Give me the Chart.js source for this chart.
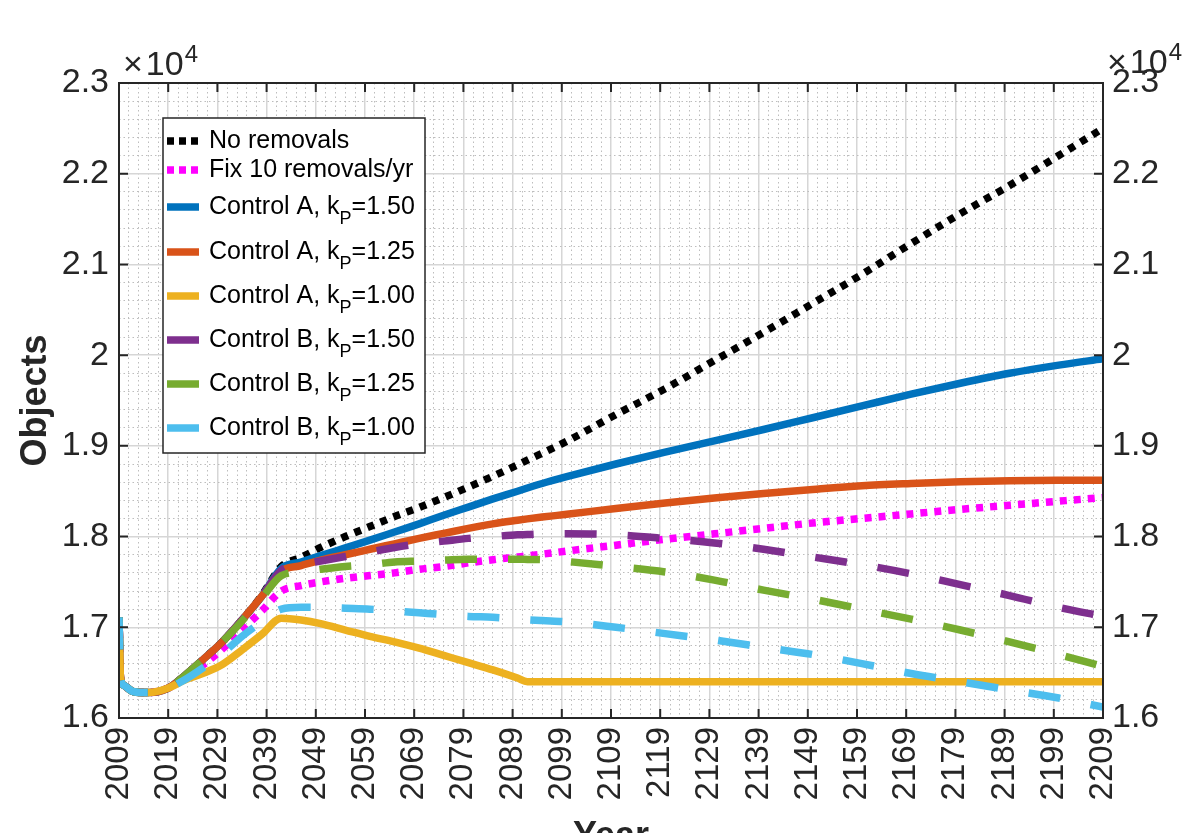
<!DOCTYPE html>
<html><head><meta charset="utf-8">
<script src="https://cdn.jsdelivr.net/npm/chart.js@4.4.1/dist/chart.umd.min.js"></script>
<style>html,body{margin:0;padding:0;background:#fff;}canvas{display:block;}</style>
</head><body>
<canvas id="c" width="1188" height="833"></canvas>
<script>
// ---- data ----
const years = [2009, 2009.3, 2010, 2012, 2015, 2019, 2022, 2026, 2030, 2034, 2038,
  2042, 2046, 2050, 2055, 2060, 2065, 2070, 2075, 2080, 2085, 2090, 2092, 2095, 2100,
  2110, 2120, 2130, 2140, 2150, 2160, 2170, 2180, 2190, 2200, 2209];
const early = [17110, 16450, 16360, 16290, 16280, 16330];
const noRemovals = early.concat([16450,16640,16840,17080,17350, 17670,17770,17880,18000,18110,18220,18320,18430,18545,18665,18790,18843,18918,19050, 19345,19630,19940,20250,20570,20890,21230,21560,21870,22200, 22500]);
const fix10 = early.concat([16430,16580,16760,16970,17180, 17400,17460,17500,17540,17570,17600,17640,17670,17710,17745,17775,17787,17806,17840, 17905,17970,18030,18090,18150,18200,18250,18300,18345,18390, 18430]);
const ctrlA150 = early.concat([16450,16640,16840,17080,17340, 17650,17720,17790,17875,17960,18050,18140,18235,18325,18415,18500,18535,18585,18660, 18800,18930,19055,19180,19310,19440,19570,19690,19800,19890, 19960]);
const ctrlA125 = early.concat([16450,16640,16840,17080,17340, 17620,17680,17740,17800,17860,17920,17980,18035,18090,18140,18180,18195,18215,18245, 18310,18370,18425,18475,18520,18560,18585,18605,18615,18620, 18620]);
const ctrlA100 = early.concat([16410,16490,16590,16750,16920, 17100,17080,17040,16970,16900,16840,16770,16690,16610,16530,16440,16400,16400,16400, 16400,16400,16400,16400,16400,16400,16400,16400,16400,16400, 16400]);
const ctrlB150 = early.concat([16450,16640,16840,17080,17340, 17630,17690,17730,17780,17830,17880,17920,17950,17980,18000,18020,18022,18028,18030, 18020,17980,17930,17860,17775,17690,17590,17470,17350,17220, 17120]);
const ctrlB125 = early.concat([16450,16640,16840,17070,17320, 17570,17610,17640,17670,17690,17720,17730,17740,17750,17750,17750,17748,17745,17725, 17670,17610,17520,17410,17310,17200,17090,16970,16840,16700, 16570]);
const ctrlB100 = early.concat([16410,16550,16710,16900,17060, 17200,17220,17220,17210,17200,17180,17160,17140,17120,17110,17090,17083,17074,17060, 17000,16930,16860,16780,16700,16600,16490,16400,16310,16220, 16120]);
const seriesLabels = ['No removals', 'Fix 10 removals/yr', 'Control A, k_P=1.50', 'Control A, k_P=1.25',
  'Control A, k_P=1.00', 'Control B, k_P=1.50', 'Control B, k_P=1.25', 'Control B, k_P=1.00'];
const xTickYears = [2009,2019,2029,2039,2049,2059,2069,2079,2089,2099,2109,2119,2129,2139,2149,2159,2169,2179,2189,2199,2209];
const yTickValues = [16000,17000,18000,19000,20000,21000,22000,23000];

// ---- styles ----
const FONT = '"Liberation Sans", Arial, Helvetica, sans-serif';
const TXT = '#262626';
const LW = 7.5;
const styles = [
  {color:'#000000', dash:[7,7], legDash:[7,5]},
  {color:'#FF00FF', dash:[7,7], legDash:[7,5]},
  {color:'#0072BD', dash:[]},
  {color:'#D95319', dash:[]},
  {color:'#EDB120', dash:[]},
  {color:'#7E2F8E', dash:[32,31]},
  {color:'#77AC30', dash:[32,31]},
  {color:'#4DBEEE', dash:[32,31]}
];
const seriesData = [noRemovals, fix10, ctrlA150, ctrlA125, ctrlA100, ctrlB150, ctrlB125, ctrlB100];

const xGrid = []; for (let v = 2009; v <= 2209; v += 2) xGrid.push(v);
const yGrid = []; for (let v = 16000; v <= 23000; v += 200) yGrid.push(v);
const isMajorX = v => xTickYears.includes(v);
const isMajorY = v => yTickValues.includes(v);

const datasets = seriesData.map((d, i) => ({
  label: seriesLabels[i],
  data: d.map((v, k) => ({x: years[k], y: v})),
  borderColor: styles[i].color,
  borderDash: styles[i].dash,
  borderWidth: LW,
  borderCapStyle: 'butt',
  borderJoinStyle: 'round',
  pointRadius: 0,
  fill: false,
  cubicInterpolationMode: 'monotone',
  order: seriesData.length - i
}));

function drawRich(ctx, text, x, y, size) {
  const parts = text.split('_');
  ctx.font = size + 'px ' + FONT;
  ctx.textBaseline = 'middle';
  ctx.textAlign = 'left';
  let cx = x;
  ctx.fillText(parts[0], cx, y); cx += ctx.measureText(parts[0]).width;
  if (parts.length > 1) {
    const sub = parts[1].charAt(0), rest = parts[1].slice(1);
    ctx.font = Math.round(size * 0.72) + 'px ' + FONT;
    ctx.fillText(sub, cx, y + 12); cx += ctx.measureText(sub).width;
    ctx.font = size + 'px ' + FONT;
    ctx.fillText(rest, cx, y);
  }
}

const framePlugin = {
  id: 'frame',
  afterDraw(chart) {
    const {ctx, chartArea: a, scales: {x, y}} = chart;
    ctx.save();
    ctx.strokeStyle = TXT; ctx.lineWidth = 2; ctx.setLineDash([]);
    ctx.beginPath();
    xTickYears.forEach(v => {
      const px = x.getPixelForValue(v);
      ctx.moveTo(px, a.bottom); ctx.lineTo(px, a.bottom - 9);
      ctx.moveTo(px, a.top); ctx.lineTo(px, a.top + 9);
    });
    yTickValues.forEach(v => {
      const py = y.getPixelForValue(v);
      ctx.moveTo(a.left, py); ctx.lineTo(a.left + 9, py);
      ctx.moveTo(a.right, py); ctx.lineTo(a.right - 9, py);
    });
    ctx.stroke();
    ctx.strokeRect(a.left, a.top, a.right - a.left, a.bottom - a.top);

    // exponent labels (x10^4)
    ctx.fillStyle = TXT; ctx.textBaseline = 'alphabetic'; ctx.textAlign = 'left';
    const expo = (x0, base) => {
      ctx.font = '34px ' + FONT;
      ctx.fillText('\u00D7', x0, base);
      let cx = x0 + ctx.measureText('\u00D7').width + 3;
      ctx.fillText('10', cx, base);
      cx += ctx.measureText('10').width + 1;
      ctx.font = '24px ' + FONT;
      ctx.fillText('4', cx, base - 13);
    };
    expo(a.left + 4, a.top - 8);
    expo(a.right + 4, a.top - 10);

    // legend
    const lx = a.left + 44, ly = a.top + 35, lw = 262, lh = 335;
    ctx.fillStyle = '#ffffff';
    ctx.fillRect(lx, ly, lw, lh);
    ctx.strokeStyle = '#262626'; ctx.lineWidth = 1.5;
    ctx.strokeRect(lx, ly, lw, lh);
    const rows = [23, 52, 89, 134, 178, 222, 266, 310];
    seriesLabels.forEach((lab, i) => {
      const ry = ly + rows[i];
      ctx.strokeStyle = styles[i].color; ctx.lineWidth = LW;
      ctx.setLineDash(styles[i].legDash || []);
      ctx.lineCap = 'butt';
      ctx.beginPath(); ctx.moveTo(lx + 4, ry); ctx.lineTo(lx + 36, ry); ctx.stroke();
      ctx.setLineDash([]);
      ctx.fillStyle = '#000000';
      drawRich(ctx, lab, lx + 46, ry, 25);
    });
    ctx.restore();
  }
};

const gridColor = maj => maj ? '#d6d6d6' : '#bdbdbd';

new Chart(document.getElementById('c'), {
  type: 'line',
  data: {datasets},
  plugins: [framePlugin],
  options: {
    responsive: false, animation: false, devicePixelRatio: 1,
    layout: {padding: {top: 83, left: 0, right: 0, bottom: 0}},
    plugins: {legend: {display: false}, tooltip: {enabled: false}},
    scales: {
      x: {
        type: 'linear', min: 2009, max: 2209,
        afterBuildTicks: s => { s.ticks = xGrid.map(v => ({value: v})); },
        afterFit: s => { s.height = 115; },
        ticks: {autoSkip: false, minRotation: 90, maxRotation: 90, padding: 9,
          font: {size: 33, family: FONT}, color: TXT,
          callback: v => isMajorX(v) ? String(v) : ''},
        grid: {drawTicks: false,
          color: c => gridColor(c.tick && isMajorX(c.tick.value)),
          lineWidth: c => (c.tick && isMajorX(c.tick.value)) ? 1.5 : 1},
        border: {display: false, dash: c => (c.tick && isMajorX(c.tick.value)) ? [] : [1.5, 3]},
        title: {display: true, text: 'Year', color: TXT,
          font: {size: 36, weight: 'bold', family: FONT}, padding: {top: 0, bottom: -26}}
      },
      y: {
        position: 'left', min: 16000, max: 23000,
        afterBuildTicks: s => { s.ticks = yGrid.map(v => ({value: v})); },
        afterFit: s => { s.width = 119; },
        ticks: {autoSkip: false, padding: 10, font: {size: 34, family: FONT}, color: TXT,
          callback: v => isMajorY(v) ? String(v / 10000) : ''},
        grid: {drawTicks: false,
          color: c => gridColor(c.tick && isMajorY(c.tick.value)),
          lineWidth: c => (c.tick && isMajorY(c.tick.value)) ? 1.5 : 1},
        border: {display: false, dash: c => (c.tick && isMajorY(c.tick.value)) ? [] : [1.5, 3]},
        title: {display: true, text: 'Objects', color: TXT,
          font: {size: 36, weight: 'bold', family: FONT}, padding: {top: 14, bottom: 0}}
      },
      y2: {
        position: 'right', min: 16000, max: 23000,
        afterBuildTicks: s => { s.ticks = yTickValues.map(v => ({value: v})); },
        afterFit: s => { s.width = 85; },
        ticks: {autoSkip: false, padding: 9, font: {size: 34, family: FONT}, color: TXT,
          callback: v => String(v / 10000)},
        grid: {drawOnChartArea: false, drawTicks: false},
        border: {display: false}
      }
    }
  }
});
</script>
</body></html>
